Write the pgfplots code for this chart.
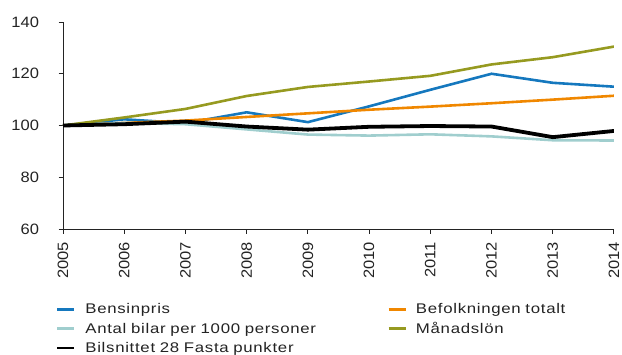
\documentclass[border=0pt]{standalone}
\usepackage{pgfplots}
\pgfplotsset{compat=1.18}
\usepackage{fontspec}
\setmainfont{Liberation Sans}
\newfontfamily\tickfont[FakeStretch=1.1]{Liberation Sans}
\newfontfamily\legfont[FakeStretch=1.2,LetterSpace=5]{Liberation Sans}
\definecolor{cblue}{RGB}{21,120,190}
\definecolor{corange}{RGB}{240,135,0}
\definecolor{cteal}{RGB}{160,206,206}
\definecolor{colive}{RGB}{150,154,32}
\definecolor{ctext}{RGB}{35,35,35}
\begin{document}
\begin{tikzpicture}
\useasboundingbox (0pt,0pt) rectangle (622pt,354pt);
\begin{axis}[
  at={(63pt,125pt)}, anchor=south west,
  scale only axis, width=551pt, height=207pt,
  xmin=2005, xmax=2014, ymin=60, ymax=140,
  xtick={2005,...,2014}, ytick={60,80,...,140},
  axis x line=bottom, axis y line=left,
  axis line style={-, line width=0.9pt, draw=ctext},
  tick style={line width=0.9pt, draw=ctext},
  tick align=outside, major tick length=4.5pt,
  /pgf/number format/assume math mode=true,
  /pgf/number format/1000 sep={},
  every tick label/.append style={font=\tickfont\fontsize{15}{17}\selectfont, text=ctext},
  every x tick label/.append style={yshift=-5pt, rotate=90, anchor=east},
  every y tick label/.append style={xshift=-16pt},
  legend columns=2,
  legend cell align=left,
  legend style={draw=none, at={(-10pt,-71pt)}, anchor=north west,
    font=\legfont\fontsize{14}{16}\selectfont, text=ctext,
    row sep=4pt,
    nodes={text width=298pt, inner xsep=4pt, inner ysep=1.5pt}},
  legend image code/.code={\draw[#1, line width=2.6pt] (0pt,0pt) -- (17pt,0pt); \path (22pt,0pt);},
]
\addplot[cblue, line width=2.6pt] coordinates {(2005,100) (2006,102.4) (2007,100.9) (2008,105.1) (2009,101.3) (2010,107.4) (2011,113.8) (2012,120) (2013,116.5) (2014,115)};
\addlegendentry{Bensinpris}
\addplot[corange, line width=2.6pt] coordinates {(2005,100) (2006,101) (2007,101.9) (2008,103.3) (2009,104.7) (2010,106.1) (2011,107.3) (2012,108.6) (2013,110) (2014,111.5)};
\addlegendentry{Befolkningen totalt}
\addplot[cteal, line width=2.6pt] coordinates {(2005,100) (2006,101) (2007,100.5) (2008,98.5) (2009,96.5) (2010,96.1) (2011,96.6) (2012,95.8) (2013,94.3) (2014,94.2)};
\addlegendentry{Antal bilar per 1000 personer}
\addplot[colive, line width=2.6pt] coordinates {(2005,100) (2006,103.1) (2007,106.4) (2008,111.4) (2009,114.9) (2010,117) (2011,119.2) (2012,123.6) (2013,126.4) (2014,130.5)};
\addlegendentry{Månadslön}
\addplot[black, line width=3.8pt] coordinates {(2005,100) (2006,100.5) (2007,101.5) (2008,99.6) (2009,98.4) (2010,99.5) (2011,99.8) (2012,99.6) (2013,95.5) (2014,97.9)};
\addlegendentry{Bilsnittet 28 Fasta punkter}
\end{axis}
\end{tikzpicture}
\end{document}
